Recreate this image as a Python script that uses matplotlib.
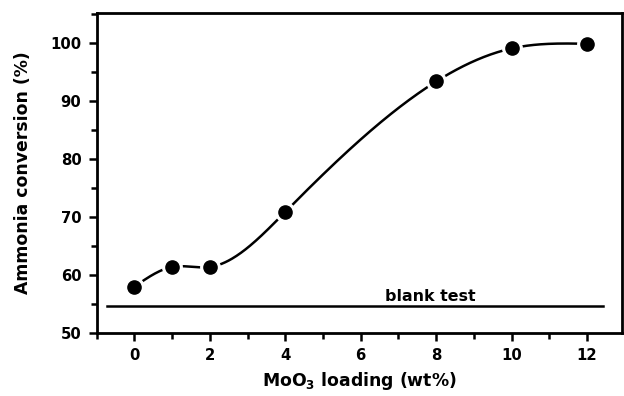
import numpy as np
import matplotlib
matplotlib.use("Agg")
import matplotlib.pyplot as plt
from matplotlib.ticker import MultipleLocator

loading = [0, 1, 2, 4, 8, 10, 12]
conversion = [58.0, 61.4, 61.4, 70.9, 93.4, 99.1, 99.9]
blank_x = [-0.72, 12.42]
blank_y = [54.6, 54.6]
xticks = [0, 2, 4, 6, 8, 10, 12]
yticks = [50, 60, 70, 80, 90, 100]


def natural_spline(x, y, xs):
    x = np.asarray(x, float); y = np.asarray(y, float)
    n = len(x)
    h = np.diff(x)
    A = np.zeros((n, n)); b = np.zeros(n)
    A[0, 0] = 1; A[-1, -1] = 1
    for i in range(1, n - 1):
        A[i, i - 1] = h[i - 1]
        A[i, i] = 2 * (h[i - 1] + h[i])
        A[i, i + 1] = h[i]
        b[i] = 3 * ((y[i + 1] - y[i]) / h[i] - (y[i] - y[i - 1]) / h[i - 1])
    c = np.linalg.solve(A, b)
    out = np.empty_like(xs)
    for k, xv in enumerate(xs):
        i = min(max(np.searchsorted(x, xv) - 1, 0), n - 2)
        d = (c[i + 1] - c[i]) / (3 * h[i])
        bb = (y[i + 1] - y[i]) / h[i] - h[i] * (2 * c[i] + c[i + 1]) / 3
        t = xv - x[i]
        out[k] = y[i] + bb * t + c[i] * t ** 2 + d * t ** 3
    return out


plt.rcParams['font.family'] = ['DejaVu Sans']
plt.rcParams['font.weight'] = 'bold'
plt.rcParams['mathtext.default'] = 'bf'

fig = plt.figure(figsize=(6.24, 3.96), dpi=100)
ax = fig.add_axes([0.155, 0.159, 0.842, 0.808])

xs = np.linspace(loading[0], loading[-1], 400)
ax.plot(xs, natural_spline(loading, conversion, xs), color='black', lw=1.8, zorder=2)
ax.plot(loading, conversion, 'o', ms=14, color='white', mec='white', zorder=3)
ax.plot(loading, conversion, 'o', ms=9.5, color='black', mec='black', zorder=4)
ax.plot(blank_x, blank_y, color='black', lw=1.8, zorder=2)
ax.text(7.85, 56.3, 'blank test', ha='center', va='center', fontsize=11.4, fontweight='bold')

ax.set_xlim(-1.0, 12.93)
ax.set_ylim(50, 105.2)
ax.set_xticks(xticks)
ax.set_yticks(yticks)
ax.xaxis.set_minor_locator(MultipleLocator(1))
ax.yaxis.set_minor_locator(MultipleLocator(5))
ax.tick_params(which='both', direction='out', width=1.8, labelsize=10.7)
ax.tick_params(which='major', length=6, pad=5)
ax.tick_params(which='minor', length=4)
for lab in ax.get_xticklabels() + ax.get_yticklabels():
    lab.set_fontweight('bold')
for s in ax.spines.values():
    s.set_linewidth(2)

ax.set_xlabel('MoO$_3$ loading (wt%)', fontsize=12.4, fontweight='bold', labelpad=5)
ax.set_ylabel('Ammonia conversion (%)', fontsize=12.4, fontweight='bold', labelpad=13)

fig.savefig('out.png', dpi=100)
